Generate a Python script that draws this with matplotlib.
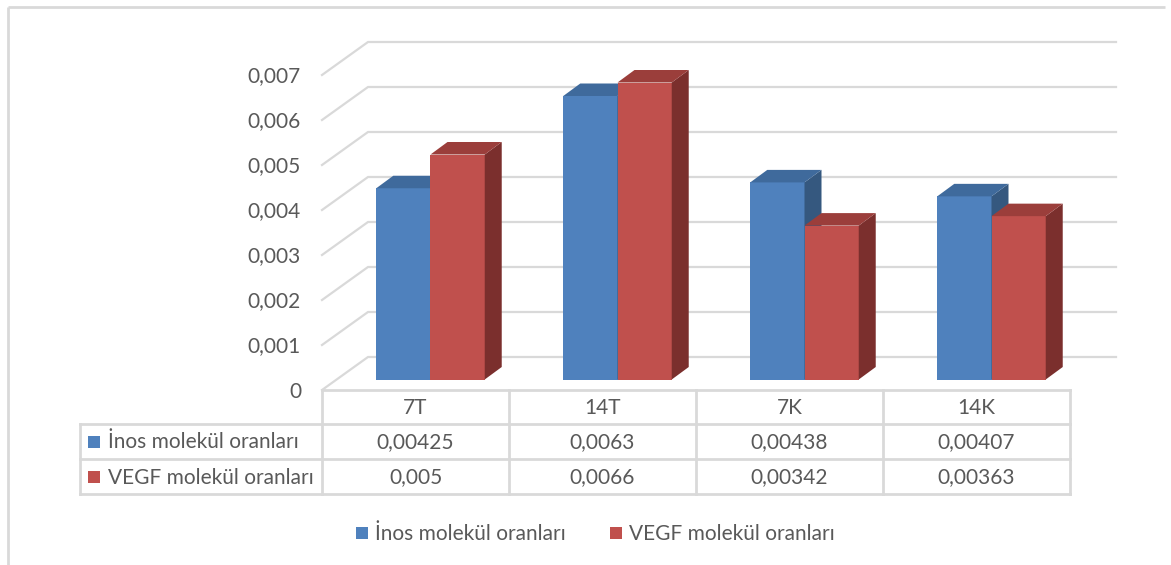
import matplotlib
matplotlib.use("Agg")
import matplotlib.pyplot as plt
from matplotlib.patches import Polygon, Rectangle
import numpy as np

# ---------------- data ----------------
categories = ["7T", "14T", "7K", "14K"]
inos_values = [0.00425, 0.0063, 0.00438, 0.00407]
vegf_values = [0.005, 0.0066, 0.00342, 0.00363]
series_names = ["İnos molekül oranları", "VEGF molekül oranları"]
y_ticks = [0, 0.001, 0.002, 0.003, 0.004, 0.005, 0.006, 0.007]

# ---------------- style ----------------
plt.rcParams['font.family'] = ['Lato', 'DejaVu Sans']
TXT = "#595959"
GRID = "#D9D9D9"
front_cols = ["#4F81BD", "#C0504D"]
top_cols = ["#3F6A9C", "#9B3E3B"]
side_cols = ["#35587F", "#7B2F2D"]
FS = 15

W, H = 1171, 565
fig = plt.figure(figsize=(W / 100, H / 100), dpi=100)

# overlay axes in pixel coordinates (y down)
ov = fig.add_axes([0, 0, 1, 1])
ov.set_xlim(0, W)
ov.set_ylim(H, 0)
ov.axis("off")

# main axes: bar-front plane
x0_px, x1_px = 337, 1085
y0_px, y1_px = 379.5, 64.5
ax = fig.add_axes([x0_px / W, (H - y0_px) / H, (x1_px - x0_px) / W, (y0_px - y1_px) / H])
ax.set_xlim(-0.5, 3.5)
ax.set_ylim(0, 0.007)
ax.axis("off")
ax.set_zorder(2)
ov.set_zorder(1)


def to_px(x, v, dx=0.0, dy=0.0):
    """data -> overlay pixel coords, with a pixel offset (dy down-positive)"""
    p = ax.transData.transform((x, v))
    return (p[0] + dx, H - p[1] + dy)


def shift(x, v, dx, dy):
    """data point shifted by pixels (dy down-positive), returned in data units"""
    p = ax.transData.transform((x, v))
    return tuple(ax.transData.inverted().transform((p[0] + dx, p[1] - dy)))


FRONT = (-15, 10.5)
BACK = (31, -22.5)
DEPTH = (17, -12.5)

# outer frame
ov.plot([8, 1165], [7, 7], color=GRID, lw=2, solid_capstyle="butt")
ov.plot([8, 8], [7, H], color=GRID, lw=2, solid_capstyle="butt")

# gridlines (side wall + back wall)
for v in y_ticks:
    fx, fy = to_px(-0.5, v, *FRONT)
    bx, by = to_px(-0.5, v, *BACK)
    ex, ey = to_px(3.5, v, *BACK)
    ov.plot([fx, bx, ex], [fy, by, ey], color=GRID, lw=1.6, solid_joinstyle="miter")
    lab = "0" if v == 0 else f"{v:.3f}".replace(".", ",")
    ov.text(301, fy + 1.5, lab, ha="right", va="center", fontsize=FS, color=TXT)

# bars
bw = 0.29
xs = np.arange(len(categories))
for i in range(len(categories)):
    for s, vals in enumerate([inos_values, vegf_values]):
        xc = xs[i] + (s - 0.5) * bw
        v = vals[i]
        ax.bar(xc, v, width=bw, color=front_cols[s], edgecolor="none", zorder=3 + i * 2 + s * 0.5)
        xl, xr = xc - bw / 2, xc + bw / 2
        tl = shift(xl, v, *DEPTH)
        tr = shift(xr, v, *DEPTH)
        br = shift(xr, 0, *DEPTH)
        top = Polygon([(xl, v), (xr, v), tr, tl], closed=True, facecolor=top_cols[s],
                      edgecolor="none", zorder=3 + i * 2 + s * 0.5)
        side = Polygon([(xr, v), tr, br, (xr, 0)], closed=True, facecolor=side_cols[s],
                       edgecolor="none", zorder=3 + i * 2 + s * 0.5)
        ax.add_patch(side)
        ax.add_patch(top)

# ---------------- data table ----------------
col_edges = [to_px(e, 0, *FRONT)[0] for e in np.arange(-0.5, len(categories), 1.0)]
row_top = to_px(-0.5, 0, *FRONT)[1]
row_edges = [row_top, 424, 459, 494]
left_x = 80
tl_kw = dict(color=GRID, lw=2, solid_capstyle="projecting")
# horizontal lines
ov.plot([col_edges[0], col_edges[-1]], [row_edges[0]] * 2, **tl_kw)
for r in row_edges[1:]:
    ov.plot([left_x, col_edges[-1]], [r, r], **tl_kw)
# vertical lines
for c in col_edges:
    ov.plot([c, c], [row_edges[0], row_edges[-1]], **tl_kw)
ov.plot([left_x, left_x], [row_edges[1], row_edges[-1]], **tl_kw)

for i, cat in enumerate(categories):
    cx = (col_edges[i] + col_edges[i + 1]) / 2
    ov.text(cx, (row_edges[0] + row_edges[1]) / 2 + 1, cat, ha="center", va="center",
            fontsize=FS, color=TXT)
    for r, vals in enumerate([inos_values, vegf_values]):
        ov.text(cx, (row_edges[r + 1] + row_edges[r + 2]) / 2 + 1,
                str(vals[i]).replace(".", ","), ha="center", va="center",
                fontsize=FS, color=TXT)

for r, name in enumerate(series_names):
    cy = (row_edges[r + 1] + row_edges[r + 2]) / 2
    ov.add_patch(Rectangle((88, cy - 6), 12, 12, facecolor=front_cols[r], edgecolor="none"))
    ov.text(108, cy + 1, name, ha="left", va="center", fontsize=FS, color=TXT)

# ---------------- legend ----------------
leg_y = 533
leg_x = [356, 610]
for s, name in enumerate(series_names):
    ov.add_patch(Rectangle((leg_x[s], leg_y - 6), 12, 12, facecolor=front_cols[s], edgecolor="none"))
    ov.text(leg_x[s] + 19, leg_y + 1, name, ha="left", va="center", fontsize=FS, color=TXT)

fig.savefig("out.png", dpi=100, facecolor="white")
